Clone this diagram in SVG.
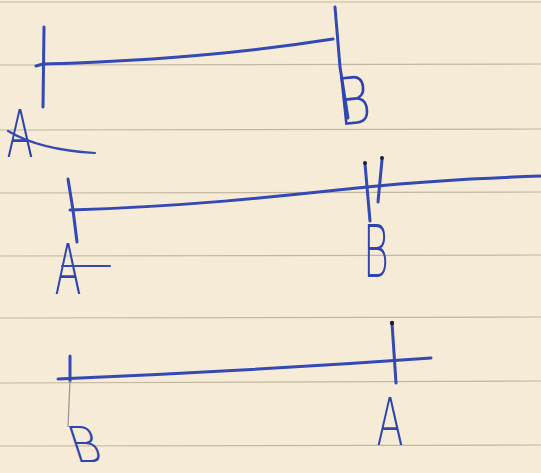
<svg xmlns="http://www.w3.org/2000/svg" width="541" height="473" viewBox="0 0 541 473">
  <style>
    .rule { stroke: #b3a68f; stroke-width: 1.2; opacity: 0.75; }
    .ink { fill: none; stroke: #3349b4; stroke-width: 3; stroke-linecap: round; stroke-linejoin: round; }
    .thin { fill: none; stroke: #3349b4; stroke-width: 2.2; stroke-linecap: round; }
    .faint { fill: none; stroke: #9d9a93; stroke-width: 1.3; }
    .lbl { font-family: "DejaVu Sans", "Liberation Sans", sans-serif; font-weight: 200; font-size: 66px; fill: #2f44ad; text-anchor: middle; }
    .dot { fill: #1b1f3a; }
  </style>
  <rect width="541" height="473" fill="#f6ebd7"/>
  <g id="paper-rules">
    <line class="rule" x1="0" y1="2" x2="541" y2="2"/>
    <line class="rule" x1="0" y1="65" x2="541" y2="64"/>
    <line class="rule" x1="0" y1="130" x2="541" y2="129"/>
    <line class="rule" x1="0" y1="193" x2="541" y2="192"/>
    <line class="rule" x1="0" y1="256" x2="541" y2="255"/>
    <line class="rule" x1="0" y1="318" x2="541" y2="317"/>
    <line class="rule" x1="0" y1="383" x2="541" y2="381"/>
    <line class="rule" x1="0" y1="446" x2="541" y2="445"/>
  </g>

  <g id="segment-1">
    <path class="ink" d="M36,66 L43,64 Q200,60 333,39"/>
    <path class="ink" d="M44,27 L43,107"/>
    <path class="ink" d="M335,7 L340,67 L348,118"/>
    <text class="lbl" transform="translate(20,157) scale(0.6,1)">A</text>
    <path class="thin" d="M8,131 Q40,150 95,153"/>
    <text class="lbl" transform="translate(356,124) rotate(-6) scale(0.8,1)">B</text>
  </g>

  <g id="segment-2">
    <path class="ink" d="M70,210 C200,206 300,194 367,187 S480,178 541,176"/>
    <path class="ink" d="M68,179 L73,210 L77,242"/>
    <path class="ink" d="M365,164 L370,221"/>
    <path class="ink" d="M382,160 L378,202"/>
    <circle class="dot" cx="365" cy="163" r="2"/>
    <circle class="dot" cx="382" cy="158" r="2"/>
    <text class="lbl" transform="translate(68,294) scale(0.6,1.05)">A</text>
    <path class="thin" d="M62,266 L110,266"/>
    <text class="lbl" transform="translate(376,277) scale(0.6,1.1)">B</text>
  </g>

  <g id="segment-3">
    <path class="ink" d="M58,379 Q250,371 431,358"/>
    <path class="ink" d="M70,356 L70,381"/>
    <path class="faint" d="M70,381 L68,427"/>
    <path class="ink" d="M392,323 L396,383"/>
    <circle class="dot" cx="392" cy="323" r="2.2"/>
    <text class="lbl" transform="translate(390,445) scale(0.6,1)">A</text>
    <text class="lbl" transform="translate(90,462) skewX(18) scale(0.7,0.75)">B</text>
  </g>
</svg>
